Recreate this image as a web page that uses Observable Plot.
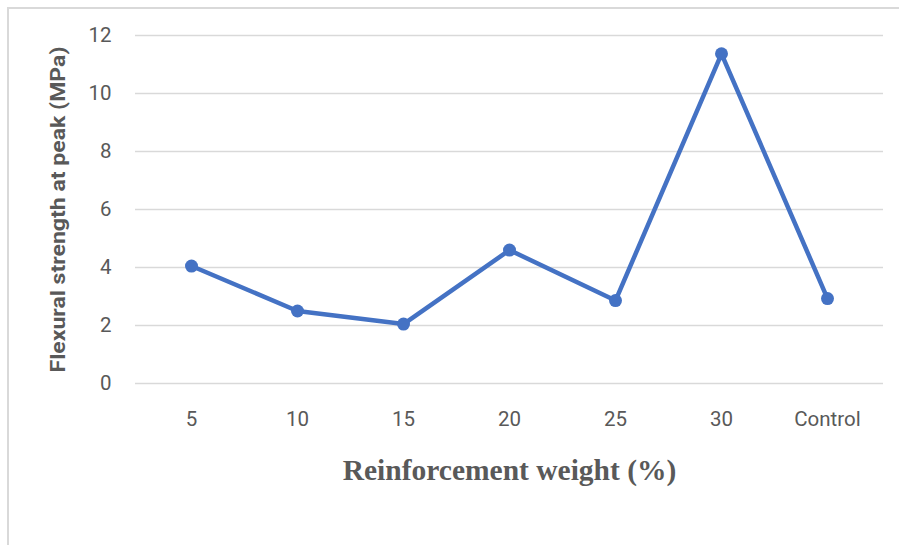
<!DOCTYPE html>
<html>
<head>
<meta charset="utf-8">
<script src="https://cdn.jsdelivr.net/npm/d3@7"></script>
<script src="https://cdn.jsdelivr.net/npm/@observablehq/plot@0.6"></script>
<style>
  html, body { margin: 0; padding: 0; background: #fff; }
  #wrap { position: relative; width: 899px; height: 545px; overflow: hidden; }
  #border { position: absolute; left: 7px; top: 7px; width: 900px; height: 600px;
            border-left: 2px solid #d9d9d9; border-top: 2px solid #d9d9d9; }
  #chart { position: absolute; left: 0; top: 0; }
</style>
</head>
<body>
<div id="wrap"><div id="border"></div><div id="chart"></div></div>
<script>
const categories = ["5", "10", "15", "20", "25", "30", "Control"];
const strength = [4.05, 2.5, 2.05, 4.6, 2.86, 11.37, 2.93];
const yTicks = [0, 2, 4, 6, 8, 10, 12];
const xTitle = "Reinforcement weight (%)";
const yTitle = "Flexural strength at peak (MPa)";

const data = categories.map((c, i) => ({category: c, value: strength[i]}));

const chart = Plot.plot({
  width: 899,
  height: 545,
  marginLeft: 135,
  marginRight: 16,
  marginTop: 35,
  marginBottom: 162,
  style: {fontFamily: "Roboto, sans-serif", fontSize: "20px", color: "#595959", background: "transparent"},
  x: {type: "point", domain: categories, padding: 0.5, label: null},
  y: {domain: [0, 12], label: null},
  marks: [
    Plot.ruleY(yTicks, {stroke: "#d9d9d9", strokeWidth: 1.6}),
    Plot.axisY({ticks: yTicks, tickSize: 0, tickPadding: 24, label: null, fontSize: 20.5, fill: "#595959"}),
    Plot.axisX({tickSize: 0, tickPadding: 28, label: null, fontSize: 20.5, fill: "#595959"}),
    Plot.line(data, {x: "category", y: "value", stroke: "#4472C4", strokeWidth: 4.5, strokeLinejoin: "round"}),
    Plot.dot(data, {x: "category", y: "value", r: 6.5, fill: "#4472C4"}),
    Plot.text([yTitle], {frameAnchor: "left", dx: -77, rotate: -90, text: d => d,
      fontSize: 21, fontWeight: "bold", fill: "#595959", textAnchor: "middle", lineAnchor: "middle"}),
    Plot.text([xTitle], {frameAnchor: "bottom", dy: 87, text: d => d,
      fontFamily: "Liberation Serif, serif", fontSize: 29.5, fontWeight: "bold", fill: "#595959", textAnchor: "middle", lineAnchor: "middle"})
  ]
});
document.getElementById("chart").appendChild(chart);
// stretch the y title to the reference's length (Calibri-like condensed face)
d3.select(chart).selectAll("text").filter(function() { return this.textContent === yTitle; })
  .attr("textLength", 326).attr("lengthAdjust", "spacingAndGlyphs");
</script>
</body>
</html>
